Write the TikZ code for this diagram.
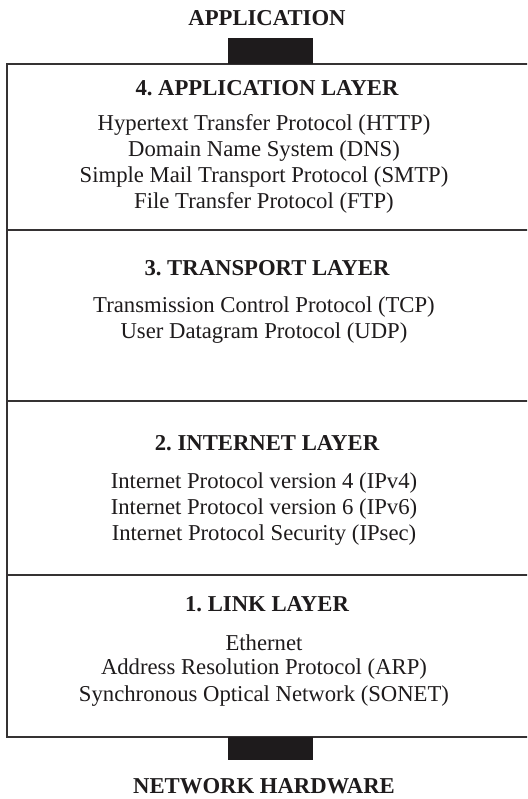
\documentclass[tikz,border=0pt]{standalone}
\usepackage{fontspec}
\setmainfont{Liberation Serif}
\definecolor{ink}{RGB}{30,27,28}
\frenchspacing
\begin{document}
\begin{tikzpicture}[x=1pt,y=1pt,
  lbl/.style={font=\fontsize{22.7}{24}\selectfont\bfseries, text=ink, inner sep=0pt},
  head/.style={font=\fontsize{22.7}{24}\selectfont\bfseries, text=ink, inner sep=0pt},
  item/.style={font=\fontsize{22.7}{24}\selectfont, text=ink, inner sep=0pt},
  rule/.style={draw=ink!90, line width=1.7pt},
  bar/.style={fill=ink, draw=none, minimum width=85pt, inner sep=0pt}]
\clip (0,0) rectangle (527,-799);
\fill[white] (0,0) rectangle (527,-799);

% outer stack and layer dividers (right edge runs off the page)
\draw[rule] (7,-64) rectangle (545,-737);
\draw[rule] (7,-230) -- (545,-230);
\draw[rule] (7,-401) -- (545,-401);
\draw[rule] (7,-575) -- (545,-575);

% top and bottom terminals
\node[lbl] (app) at (267,-18) {APPLICATION};
\node[bar, minimum height=26pt] (topbar) at (270,-51) {};
\node[bar, minimum height=23pt] (botbar) at (270,-748.5) {};
\node[lbl] (hw) at (264,-786) {NETWORK HARDWARE};

% layer 4
\node[head] (h4) at (267,-88) {4. APPLICATION LAYER};
\node[item] (http) at (264,-125) {Hypertext Transfer Protocol (HTTP)};
\node[item] (dns)  at (264,-151) {Domain Name System (DNS)};
\node[item] (smtp) at (264,-177) {Simple Mail Transport Protocol (SMTP)};
\node[item] (ftp)  at (264,-203) {File Transfer Protocol (FTP)};

% layer 3
\node[head] (h3) at (267,-268) {3. TRANSPORT LAYER};
\node[item] (tcp) at (264,-307) {Transmission Control Protocol (TCP)};
\node[item] (udp) at (264,-333) {User Datagram Protocol (UDP)};

% layer 2
\node[head] (h2) at (267,-443) {2. INTERNET LAYER};
\node[item] (ipv4)  at (264,-483) {Internet Protocol version 4 (IPv4)};
\node[item] (ipv6)  at (264,-509) {Internet Protocol version 6 (IPv6)};
\node[item] (ipsec) at (264,-535) {Internet Protocol Security (IPsec)};

% layer 1
\node[head] (h1) at (267,-604) {1. LINK LAYER};
\node[item] (eth)   at (264,-643) {Ethernet};
\node[item] (arp)   at (264,-669) {Address Resolution Protocol (ARP)};
\node[item] (sonet) at (264,-696) {Synchronous Optical Network (SONET)};
\end{tikzpicture}
\end{document}
